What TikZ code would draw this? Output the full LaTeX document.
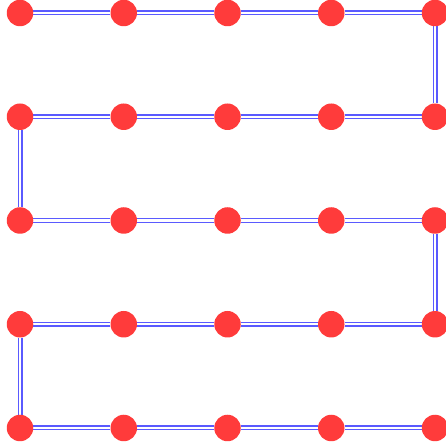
\documentclass[tikz,border=0pt]{standalone}
\usetikzlibrary{backgrounds}
\definecolor{dotred}{RGB}{255,59,59}
\definecolor{linkblue}{RGB}{90,90,255}
\tikzset{
  dot/.style={circle,fill=dotred,draw=none,minimum size=26.5pt,inner sep=0pt},
  link/.style={draw=linkblue,line width=1.4pt,double=white,double distance=2.2pt}
}
\begin{document}
\begin{tikzpicture}[x=1pt,y=1pt]
\useasboundingbox (0,0) rectangle (445,446);
\foreach \r in {0,...,4}{
  \foreach \c in {0,...,4}{
    \node[dot] (n\r\c) at ({20+103.75*\c},{446-13-103.75*\r}) {};
  }
}
\begin{pgfonlayer}{background}
\draw[link] (n00) -- (n01) -- (n02) -- (n03) -- (n04);
\draw[link] (n04) -- (n14);
\draw[link] (n14) -- (n13) -- (n12) -- (n11) -- (n10);
\draw[link] (n10) -- (n20);
\draw[link] (n20) -- (n21) -- (n22) -- (n23) -- (n24);
\draw[link] (n24) -- (n34);
\draw[link] (n34) -- (n33) -- (n32) -- (n31) -- (n30);
\draw[link] (n30) -- (n40);
\draw[link] (n40) -- (n41) -- (n42) -- (n43) -- (n44);
\end{pgfonlayer}
\end{tikzpicture}
\end{document}
